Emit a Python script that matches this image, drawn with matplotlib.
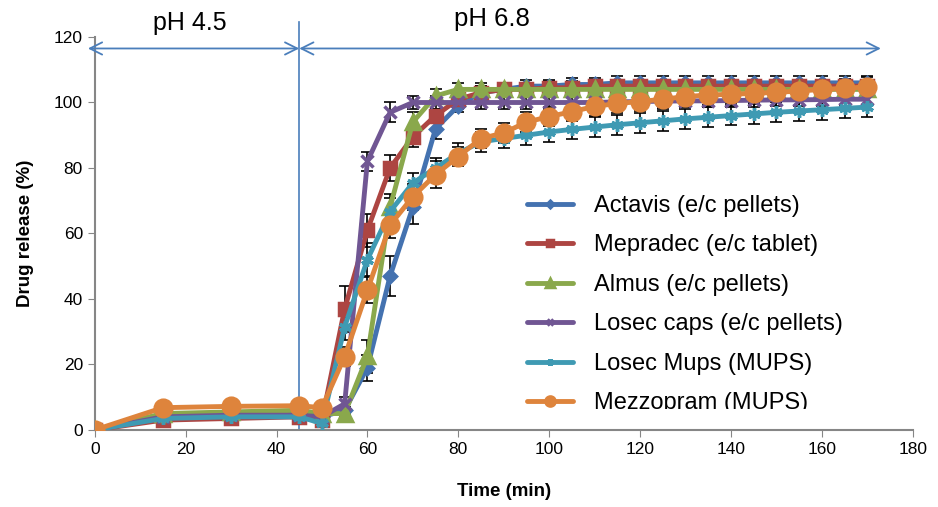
import numpy as np
import matplotlib
matplotlib.use('Agg')
import matplotlib.pyplot as plt
from matplotlib.transforms import Bbox, TransformedBbox

plt.rcParams['font.family'] = ['Liberation Sans', 'DejaVu Sans']

#################################################
# DATA
#################################################
time_min = [0, 15, 30, 45, 50, 55, 60, 65, 70, 75, 80, 85, 90, 95, 100, 105,
            110, 115, 120, 125, 130, 135, 140, 145, 150, 155, 160, 165, 170]

labels = ['Actavis (e/c pellets)', 'Mepradec (e/c tablet)', 'Almus (e/c pellets)',
          'Losec caps (e/c pellets)', 'Losec Mups (MUPS)', 'Mezzopram (MUPS)']

actavis = [0, 4.5, 5, 5, 4, 6, 19, 47, 68, 92, 99, 103, 104, 105, 105, 105.5, 105.5,
           106, 106, 106, 106, 106, 106, 106, 106, 106, 106, 106, 106]
mepradec = [0, 3, 3.5, 4, 3, 37, 61, 80, 89.5, 96, 101, 103, 104, 104, 104.5, 104.5,
            105, 105, 105, 105, 105, 105, 105, 105, 105, 105, 105, 105, 105]
almus = [0, 5, 5.5, 6, 5, 5, 22.5, 68, 94, 102, 104, 104, 104, 104, 104, 104, 104,
         104, 104, 104, 104, 104, 104, 104, 104, 104, 104, 104, 104]
losec_caps = [0, 4, 4.5, 4.5, 4, 8, 82, 97, 100, 100, 100, 100, 100, 100, 100, 100,
              100, 100.2, 100.3, 100.4, 100.5, 100.5, 100.6, 100.7, 100.8, 100.8, 100.9, 101, 101]
losec_mups = [0, 3.5, 4, 4, 2, 31.5, 52, 66.7, 75.4, 80, 84.5, 88, 89, 90, 91, 91.8,
              92.5, 93.2, 93.8, 94.4, 95, 95.5, 96, 96.5, 97, 97.4, 97.8, 98.2, 98.6]
mezzopram = [0, 6.8, 7.2, 7.4, 6.8, 22.4, 42.7, 62.6, 71.2, 78, 83.5, 89, 90.7, 94,
             95.7, 97.2, 98.8, 99.7, 100.3, 101, 101.8, 102.3, 102.5, 102.8, 103.1,
             103.5, 104, 104.3, 104.8]

# standard deviations (error bars)
sd_actavis = [0, 0.5, 0.5, 0.5, 0.5, 1, 4, 6, 5, 3, 2, 2, 2, 2, 2, 2, 2, 2, 2, 2, 2,
              2, 2, 2, 2, 2, 2, 2, 2]
sd_mepradec = [0, 0.5, 0.5, 0.5, 0.5, 7, 5, 4, 3, 2, 2, 2, 2, 2, 2, 2, 2, 2, 2, 2, 2,
               2, 2, 2, 2, 2, 2, 2, 2]
sd_almus = [0, 0.5, 0.5, 0.5, 0.5, 1, 5, 4, 3, 2, 2, 2, 2, 2, 2, 2, 2, 2, 2, 2, 2, 2,
            2, 2, 2, 2, 2, 2, 2]
sd_losec_caps = [0, 0.5, 0.5, 0.5, 0.5, 2, 3, 3, 2, 2, 2, 2, 2, 2, 2, 2, 2, 2, 2, 2,
                 2, 2, 2, 2, 2, 2, 2, 2, 2]
sd_losec_mups = [0, 0.5, 0.5, 0.5, 0.5, 4, 5, 4, 3, 3, 3, 3, 3, 3, 3, 3, 3, 3, 3, 3,
                 3, 3, 3, 3, 3, 3, 3, 3, 3]
sd_mezzopram = [0, 0.5, 0.5, 0.5, 0.5, 3, 4, 4, 4, 4, 3, 3, 3, 3, 3, 3, 3, 3, 3, 3, 3,
                3, 3, 3, 3, 3, 3, 3, 3]

series = [actavis, mepradec, almus, losec_caps, losec_mups, mezzopram]
errors = [sd_actavis, sd_mepradec, sd_almus, sd_losec_caps, sd_losec_mups, sd_mezzopram]

colors = ['#4472B0', '#AD4542', '#8AA84C', '#705693', '#3F9AB3', '#DE843C']
markers = ['D', 's', '^', 'x', (6, 2, 0), 'o']
msizes = [6, 9, 10, 9, 9, 12]

#################################################
# PLOT
#################################################
fig = plt.figure(figsize=(9.38, 5.07), dpi=100)
ax = fig.add_axes([0.101, 0.152, 0.872, 0.775])

t = np.array(time_min)
for y, e in zip(series, errors):
    ax.errorbar(t, y, yerr=e, fmt='none', ecolor='black', elinewidth=1.2,
                capsize=4, capthick=1.2, zorder=2)

for y, lab, c, m, ms in zip(series, labels, colors, markers, msizes):
    ax.plot(t, y, color=c, lw=3.5, marker=m, ms=ms, mew=2.5,
            mec=c, mfc=c, label=lab, zorder=3, solid_capstyle='round')

ax.set_xlim(0, 180)
ax.set_ylim(0, 120)
ax.set_xticks(np.arange(0, 181, 20))
ax.set_yticks(np.arange(0, 121, 20))
ax.tick_params(labelsize=12.5, color='#868686', length=5, direction='out')
for s in ['top', 'right']:
    ax.spines[s].set_visible(False)
for s in ['left', 'bottom']:
    ax.spines[s].set_color('#868686')
    ax.spines[s].set_linewidth(1.5)

ax.set_xlabel('Time (min)', fontsize=13.5, fontweight='bold', labelpad=19)
ax.set_ylabel('Drug release (%)', fontsize=13.5, fontweight='bold', labelpad=14)

# pH regions
arrow_col = '#4A7EBB'
ax.plot([45, 45], [0, 124.5], color=arrow_col, lw=1.2, clip_on=False, zorder=1)
ax.annotate('', xy=(-1.5, 116.5), xytext=(45, 116.5), annotation_clip=False,
            arrowprops=dict(arrowstyle='<->', color=arrow_col, lw=1.3,
                            shrinkA=0, shrinkB=0, mutation_scale=22))
ax.annotate('', xy=(173, 116.5), xytext=(45, 116.5), annotation_clip=False,
            arrowprops=dict(arrowstyle='<->', color=arrow_col, lw=1.3,
                            shrinkA=0, shrinkB=0, mutation_scale=22))
ax.text(21, 124.3, 'pH 4.5', fontsize=18, ha='center', va='center', clip_on=False)
ax.text(87.5, 125.5, 'pH 6.8', fontsize=18.5, ha='center', va='center', clip_on=False)

leg = ax.legend(loc='upper left', bbox_to_anchor=(0.503, 0.652), frameon=False,
                fontsize=17, labelspacing=0.74, handlelength=1.95, handletextpad=0.85,
                markerscale=0.55)

# legend box is cut off at the bottom like in the original
clip = TransformedBbox(Bbox([[0, (507 - 409) / 507], [1, 1]]), fig.transFigure)
for txt in leg.get_texts():
    txt.set_clip_box(clip)
    txt.set_clip_on(True)
for h in leg.legend_handles:
    h.set_clip_box(clip)
    h.set_clip_on(True)

plt.savefig('out.png', dpi=100)
